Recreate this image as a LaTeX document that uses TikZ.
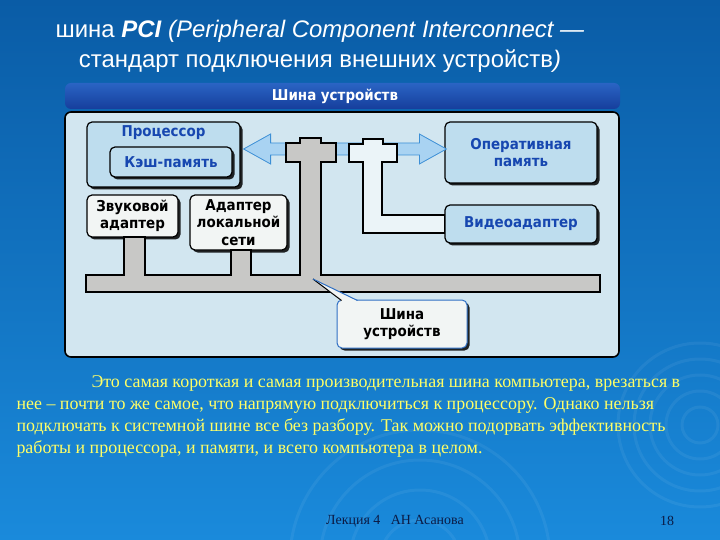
\documentclass[tikz,border=0pt]{standalone}
\usepackage{fontspec}
\setmainfont{Liberation Serif}
\setsansfont{Liberation Sans}
\newfontfamily\diagfont{DejaVu Sans Condensed}
\usetikzlibrary{calc,shadows}

\definecolor{PciBackTop}{HTML}{0A5CA6}
\definecolor{PciBackBottom}{HTML}{1A8ADB}
\definecolor{PciHeadTop}{HTML}{2A64C4}
\definecolor{PciHeadBottom}{HTML}{163E9C}
\definecolor{PciPanel}{HTML}{D2E6F0}
\definecolor{PciBoxBlue}{HTML}{BEDDEE}
\definecolor{PciBoxWhite}{HTML}{F2F5F4}
\definecolor{PciBlueText}{HTML}{1747B0}
\definecolor{PciBus}{HTML}{C8C8C6}
\definecolor{PciArrow}{HTML}{A9D3F2}
\definecolor{PciArrowLine}{HTML}{3C8FD6}
\definecolor{PciNote}{HTML}{2F6FC4}
\definecolor{PciYellow}{HTML}{FFFF66}
\definecolor{PciFoot}{HTML}{0B1B45}

\begin{document}
\begin{tikzpicture}[x=1bp,y=-1bp,
    box/.style={draw=black,line width=1.2bp,rounded corners=5bp,inner sep=0pt,align=center,
      drop shadow={shadow xshift=2.5bp,shadow yshift=-2.5bp,fill=black,opacity=.85},
      font=\diagfont\bfseries\fontsize{15}{17.5}\selectfont},
    bluebox/.style={box,fill=PciBoxBlue,text=PciBlueText},
    whitebox/.style={box,fill=PciBoxWhite,text=black},
    boxtext/.style={font=\diagfont\bfseries\fontsize{15}{17.5}\selectfont,text=PciBlueText},
    busline/.style={draw=black,line width=1.2bp,fill=PciBus},
    ripple/.style={draw=white,opacity=.06,line width=3bp}]
  \useasboundingbox (0,0) rectangle (720,540);
  \shade[top color=PciBackTop,bottom color=PciBackBottom] (0,0) rectangle (720,540);
  % faint ripples of the slide background
  \foreach \r in {18,34,50,66,82}
    \draw[ripple] (700,425) circle (\r);
  \foreach \r in {40,70,100,130}
    \draw[ripple] (420,560) circle (\r);

  % title
  \node[font=\sffamily\fontsize{24}{30}\selectfont,text=white,align=center] (title) at (320,46)
    {шина \textbf{\textit{PCI}} \textit{(Peripheral Component Interconnect —}\\
     стандарт подключения внешних устройств\textit{)}};

  % picture of the bus
  \shade[top color=PciHeadTop,bottom color=PciHeadBottom,rounded corners=6bp] (65,83) rectangle (620,109);
  \node[font=\diagfont\bfseries\fontsize{15}{17}\selectfont,text=white] (head) at (335,96) {Шина устройств};
  \draw[fill=PciPanel,draw=black,line width=1.6bp,rounded corners=6bp] (65,112) rectangle (619,357);

  \node[bluebox,minimum width=153bp,minimum height=65bp] (cpu) at (163.5,154.5) {};
  \node[boxtext] (cputxt) at ($(cpu.north)+(0,11)$) {Процессор};
  \node[bluebox,minimum width=122bp,minimum height=30bp] (cache) at (171,162) {Кэш-память};
  \node[whitebox,minimum width=91bp,minimum height=42bp] (snd) at (132.5,216) {Звуковой\\адаптер};
  \node[whitebox,minimum width=97bp,minimum height=55bp] (lan) at (238.5,222.5) {Адаптер\\локальной\\сети};
  \node[bluebox,minimum width=152bp,minimum height=61bp] (ram) at (521,152.5) {Оперативная\\память};
  \node[bluebox,minimum width=152bp,minimum height=38bp] (vid) at (521,224) {Видеоадаптер};

  % double arrow between processor and memory
  \coordinate (arrL) at ($(cpu.east)+(3,-5.5)$);
  \coordinate (arrR) at ($(ram.west)+(2,-3.5)$);
  \draw[fill=PciArrow,draw=PciArrowLine,line width=.8bp,line join=miter]
    (arrL) -- ++(27,-15) -- ++(0,9) -- ($(arrR)+(-27,-6)$) -- ++(0,-9) -- (arrR)
    -- ++(-27,15) -- ++(0,-9) -- ($(arrL)+(27,6)$) -- ++(0,9) -- cycle;

  % channel to the video adapter
  \draw[fill=white!55!PciPanel,draw=black,line width=1.2bp]
    (349,144) -- (363,144) -- (363,139) -- (383,139) -- (383,144) -- (397,144) -- (397,162)
    -- (382,162) -- (382,215) -- (vid.west |- 0,215) -- (vid.west |- 0,233) -- (363,233)
    -- (363,162) -- (349,162) -- cycle;

  % the device bus
  \draw[busline]
    (86,275) -- (124,275) -- (124,237) -- (145,237) -- (145,275) -- (231,275) -- (231,250)
    -- (251,250) -- (251,275) -- (300,275) -- (300,162) -- (286,162) -- (286,143)
    -- (300,143) -- (300,138) -- (321,138) -- (321,143) -- (336,143) -- (336,162)
    -- (321,162) -- (321,275) -- (600,275) -- (600,292) -- (86,292) -- cycle;

  % callout
  \node[box,fill=PciBoxWhite,draw=PciNote,line width=1bp,minimum width=130bp,minimum height=48bp] (busnote) at (402,324) {Шина\\устройств};
  \coordinate (bustip) at (313,279);
  \fill[PciBoxWhite] ($(busnote.north west)+(5,1.5)$) -- (bustip) -- ($(busnote.north west)+(21,1.5)$) -- cycle;
  \draw[black,line width=1bp] ($(busnote.north west)+(5,1)$) -- (bustip);
  \draw[PciNote,line width=1bp] (bustip) -- ($(busnote.north west)+(21,1)$);

  % text
  \node[anchor=north west,align=left,font=\fontsize{18}{22}\selectfont,text=PciYellow] (para) at (13,372)
    {\hspace*{75bp}Это самая короткая и самая производительная шина компьютера, врезаться в\\
     нее – почти то же самое, что напрямую подключиться к процессору. Однако нельзя\\
     подключать к системной шине все без разбору. Так можно подорвать эффективность\\
     работы и процессора, и памяти, и всего компьютера в целом.};

  % footer
  \node[font=\fontsize{14}{16}\selectfont,text=PciFoot] (foot) at (395,521) {Лекция 4\ \ \ АН Асанова};
  \node[font=\fontsize{14}{16}\selectfont,text=PciFoot] (page) at (667,521) {18};
\end{tikzpicture}
\end{document}
